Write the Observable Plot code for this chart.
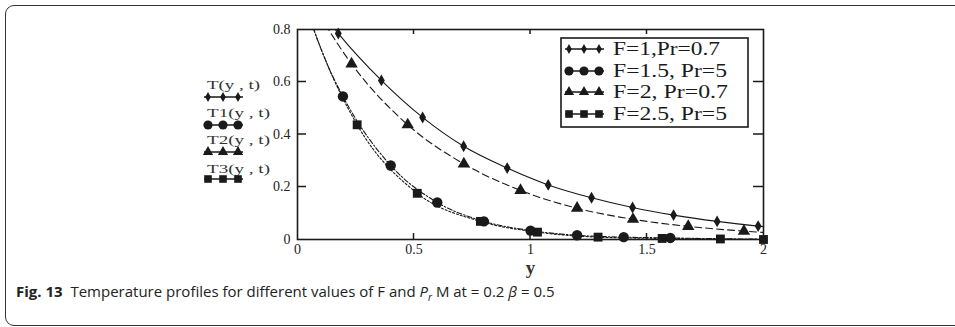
<!DOCTYPE html>
<html><head><meta charset="utf-8">
<script src="https://cdn.jsdelivr.net/npm/d3@7"></script>
<script src="https://cdn.jsdelivr.net/npm/@observablehq/plot@0.6"></script>
<style>
body{margin:0;background:#fff;}
#wrap{position:relative;width:955px;height:327px;overflow:hidden;background:#fff;}
#box{position:absolute;left:5px;top:5px;width:1000px;height:319px;border:1.5px solid #333;border-radius:9px;}
#chart{position:absolute;left:0;top:0;}
#cap{position:absolute;left:16px;top:281px;font-family:"Open Sans";font-size:15px;color:#222;white-space:nowrap;}
#cap b{font-weight:700;}
</style></head><body>
<div id="wrap"><div id="box"></div><div id="chart"></div>
<div id="cap"><b>Fig. 13</b>&nbsp; Temperature profiles for different values of F and <i>P<sub style="font-size:10px">r</sub></i> M at = 0.2 <i>β</i> = 0.5</div></div>
<script>
// ---- data ----
const seriesNames = ["F=1,Pr=0.7", "F=1.5, Pr=5", "F=2, Pr=0.7", "F=2.5, Pr=5"];
const plotNames = ["T(y , t)", "T1(y , t)", "T2(y , t)", "T3(y , t)"];

// F=1, Pr=0.7 (solid, diamonds)
const s1LineY = [0, 0.175, 0.36, 0.537, 0.713, 0.9, 1.076, 1.262, 1.438, 1.614, 1.801, 1.977, 2.0];
const s1LineT = [1.0, 0.785, 0.606, 0.465, 0.355, 0.272, 0.208, 0.159, 0.122, 0.093, 0.069, 0.051, 0.049];
const s1MarkY = [0.175, 0.36, 0.537, 0.713, 0.9, 1.076, 1.262, 1.438, 1.614, 1.801, 1.977];
const s1MarkT = [0.785, 0.606, 0.465, 0.355, 0.272, 0.208, 0.159, 0.122, 0.093, 0.069, 0.051];

// F=1.5, Pr=5 (dash-dot, circles)
const s2LineY = [0, 0.07, 0.127, 0.195, 0.4, 0.6, 0.8, 1.0, 1.2, 1.4, 1.6, 1.8, 2.0];
const s2LineT = [1.0, 0.80, 0.669, 0.545, 0.282, 0.141, 0.069, 0.034, 0.016, 0.009, 0.006, 0.003, 0.001];
const s2MarkY = [0.195, 0.4, 0.6, 0.8, 1.0, 1.2, 1.4, 1.6];
const s2MarkT = [0.545, 0.282, 0.141, 0.069, 0.034, 0.016, 0.009, 0.006];

// F=2, Pr=0.7 (dashed, triangles)
const s3LineY = [0, 0.232, 0.473, 0.714, 0.957, 1.2, 1.44, 1.677, 1.916, 2.0];
const s3LineT = [1.0, 0.669, 0.437, 0.288, 0.187, 0.119, 0.077, 0.050, 0.032, 0.027];
const s3MarkY = [0.232, 0.473, 0.714, 0.957, 1.2, 1.44, 1.677, 1.916];
const s3MarkT = [0.669, 0.437, 0.288, 0.187, 0.119, 0.077, 0.050, 0.032];

// F=2.5, Pr=5 (dotted, squares)
const s4LineY = [0, 0.07, 0.127, 0.256, 0.514, 0.785, 1.03, 1.29, 1.565, 1.815, 2.0];
const s4LineT = [1.0, 0.80, 0.669, 0.437, 0.176, 0.069, 0.028, 0.009, 0.004, 0.002, 0.0];
const s4MarkY = [0.256, 0.514, 0.785, 1.03, 1.29, 1.565, 1.815, 2.0];
const s4MarkT = [0.437, 0.176, 0.069, 0.028, 0.009, 0.004, 0.002, 0.0];

const xTicks = [0, 0.5, 1, 1.5, 2];
const yTicks = [0, 0.2, 0.4, 0.6, 0.8];
const xInnerTicks = [0.5, 1, 1.5];
const yInnerTicks = [0.2, 0.4, 0.6];

// ---- styling ----
const symbols = ["diamond", "circle", "triangle", "square"];
const radii = [3.6, 5.2, 4.6, 5.0];
const legendRadii = [3.0, 4.6, 3.8, 4.3];
const dashes = [null, "5,2,1.5,2", "7,4", "2,2"];
const ink = "#1a1a1a";
const W = 955, H = 285, mL = 297, mR = 192, mT = 29, mB = 46;

const zip = (xs, ys) => xs.map((v, i) => ({y: v, T: ys[i]}));
const lines = [zip(s1LineY, s1LineT), zip(s2LineY, s2LineT), zip(s3LineY, s3LineT), zip(s4LineY, s4LineT)];
const marks = [zip(s1MarkY, s1MarkT), zip(s2MarkY, s2MarkT), zip(s3MarkY, s3MarkT), zip(s4MarkY, s4MarkT)];

const plotMarks = [];
lines.forEach((d, i) => {
  plotMarks.push(Plot.line(d, {x: "y", y: "T", curve: "monotone-x", clip: true, stroke: ink, strokeWidth: 1.1, strokeDasharray: dashes[i]}));
});
marks.forEach((d, i) => {
  plotMarks.push(Plot.dot(d, {x: "y", y: "T", symbol: () => symbols[i], r: radii[i], fill: ink, stroke: "none"}));
});

const chart = Plot.plot({
  width: W, height: H,
  marginLeft: mL, marginRight: mR, marginTop: mT, marginBottom: mB,
  style: {fontFamily: "Liberation Serif", fontSize: "14px", color: ink, background: "transparent", overflow: "visible"},
  x: {domain: [0, 2], label: null, axis: null},
  y: {domain: [0, 0.8], label: null, axis: null},
  symbol: {domain: symbols, range: symbols},
  marks: [
    ...plotMarks,
    Plot.frame({stroke: ink, strokeWidth: 1.6}),
    // tick labels
    Plot.axisX({ticks: xTicks, tickSize: 0, tickPadding: 5, fontSize: 14, label: null, tickFormat: d => String(d), fill: "#222"}),
    Plot.axisY({ticks: yTicks, tickSize: 0, tickPadding: 7, fontSize: 14, label: null, fill: "#222", tickFormat: d => d === 0 ? "0" : d3.format(".1f")(d)}),
    Plot.text(["y"], {frameAnchor: "bottom", dy: 34, fontWeight: "bold", fontSize: 19, fill: "#333"})
  ]
});
document.getElementById("chart").append(chart);

const svg = d3.select(chart);
// inward-pointing tick marks placed through the chart's own scales
const sx = chart.scale("x"), sy = chart.scale("y");
const tg = svg.append("g").attr("stroke", ink).attr("stroke-width", 1.5);
const yBot = sy.apply(0), yTop = sy.apply(0.8), xL = sx.apply(0), xR = sx.apply(2);
xInnerTicks.forEach(v => {
  const px = sx.apply(v);
  tg.append("line").attr("x1", px).attr("x2", px).attr("y1", yBot).attr("y2", yBot - 6);
  tg.append("line").attr("x1", px).attr("x2", px).attr("y1", yTop).attr("y2", yTop + 5);
});
yInnerTicks.forEach(v => {
  const py = sy.apply(v);
  tg.append("line").attr("x1", xL).attr("x2", xL + 9).attr("y1", py).attr("y2", py);
  tg.append("line").attr("x1", xR).attr("x2", xR - 10).attr("y1", py).attr("y2", py);
});

// ---- legends ----
const symFns = [d3.symbolDiamond, d3.symbolCircle, d3.symbolTriangle, d3.symbolSquare];
function sample(g, x0, x1, y, i, pts) {
  g.append("line").attr("x1", x0).attr("x2", x1).attr("y1", y).attr("y2", y).attr("stroke", ink).attr("stroke-width", 1.4);
  pts.forEach(px => g.append("path").attr("d", d3.symbol(symFns[i], Math.PI * legendRadii[i] * legendRadii[i])()).attr("transform", `translate(${px},${y})`).attr("fill", ink));
}
// right boxed legend
const lg = svg.append("g").attr("text-anchor", "start");
lg.append("rect").attr("x", 561).attr("y", 38).attr("width", 187).attr("height", 89).attr("fill", "#fff").attr("stroke", ink).attr("stroke-width", 1.6);
const rowY = [49, 71, 92, 114];
const rowW = [107, 114, 115, 114];
seriesNames.forEach((name, i) => {
  sample(lg, 565, 604, rowY[i], i, [569, 584, 599]);
  lg.append("text").attr("x", 613).attr("y", rowY[i] + 6).text(name).attr("text-anchor", "start")
    .attr("font-size", 18).attr("fill", ink).attr("textLength", rowW[i]).attr("lengthAdjust", "spacingAndGlyphs");
});
// left legend
const ll = svg.append("g").attr("text-anchor", "start");
const txtY = [89, 117, 144, 173];
const symY = [97, 125, 152, 179];
const txtW = [53, 63, 63, 63];
plotNames.forEach((name, i) => {
  ll.append("text").attr("x", 207).attr("y", txtY[i]).text(name).attr("text-anchor", "start")
    .attr("font-size", 13).attr("fill", "#333").attr("textLength", txtW[i]).attr("lengthAdjust", "spacingAndGlyphs");
  sample(ll, 204, 243, symY[i], i, [208, 223, 238]);
});
</script>
</body></html>
